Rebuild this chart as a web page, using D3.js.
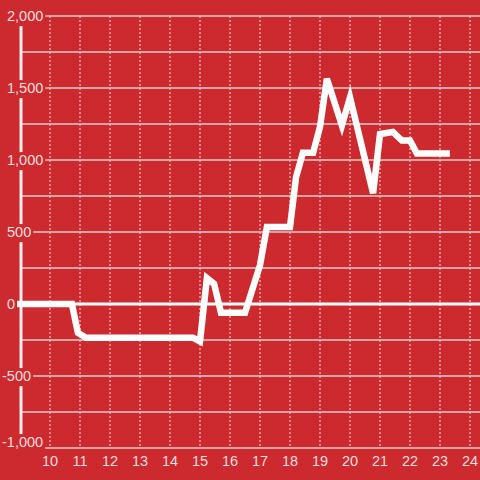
<!DOCTYPE html>
<html>
<head>
<meta charset="utf-8">
<script src="https://cdn.jsdelivr.net/npm/d3@7"></script>
<style>
  body { margin: 0; background: #cc2a2f; }
  svg { display: block; }
  text { font-family: "Liberation Sans", Arial, sans-serif; font-size: 14.5px; fill: #f4dede; }
</style>
</head>
<body>
<svg width="480" height="480"></svg>
<script>
// hours of the day
var hours = [8.9, 10.73, 10.93, 11.2, 14.77, 15.0, 15.23, 15.47, 15.7, 16.5, 17.0, 17.23, 18.0,
    18.2, 18.43, 18.77, 19.0, 19.23, 19.73, 20.0, 20.77, 21.0, 21.43, 21.73, 22.0, 22.23, 23.33];
var values = [0, 0, -200, -235, -235, -260, 180, 140, -60, -60, 270, 535, 535,
    880, 1050, 1050, 1230, 1565, 1240, 1435, 770, 1180, 1195, 1135, 1135, 1045, 1045];
var xTicks = [10, 11, 12, 13, 14, 15, 16, 17, 18, 19, 20, 21, 22, 23, 24];
var yTicks = [-1000, -750, -500, -250, 0, 250, 500, 750, 1000, 1250, 1500, 1750, 2000];
var yLabels = [-1000, -500, 0, 500, 1000, 1500, 2000];

var bg = "#cc2a2f";
var svg = d3.select("svg");

var x = d3.scaleLinear().domain([10, 24]).range([50, 470]);
var y = d3.scaleLinear().domain([-1000, 2000]).range([448, 16]);

// vertical dotted grid
svg.append("g").selectAll("line")
    .data(xTicks)
    .enter().append("line")
    .attr("x1", function(d) { return x(d); })
    .attr("x2", function(d) { return x(d); })
    .attr("y1", 16).attr("y2", 446)
    .attr("stroke", "#f0dada")
    .attr("stroke-width", 1)
    .attr("stroke-dasharray", "2,2");

// horizontal grid
svg.append("g").selectAll("line")
    .data(yTicks)
    .enter().append("line")
    .attr("x1", 21).attr("x2", 480)
    .attr("y1", function(d) { return y(d); })
    .attr("y2", function(d) { return y(d); })
    .attr("stroke", function(d) { return d === 0 ? "#ffffff" : "#d6cccc"; })
    .attr("stroke-width", function(d) { return d === 0 ? 3 : 1.5; });

// y axis line
svg.append("line")
    .attr("x1", 21).attr("x2", 21)
    .attr("y1", 16).attr("y2", 448)
    .attr("stroke", "#f4eeee")
    .attr("stroke-width", 3);

// data line
var line = d3.line()
    .x(function(d, i) { return x(hours[i]); })
    .y(function(d) { return y(d); });

svg.append("path")
    .datum(values)
    .attr("d", line)
    .attr("fill", "none")
    .attr("stroke", "#ffffff")
    .attr("stroke-width", 6.5)
    .attr("stroke-linejoin", "miter");

// y labels with background boxes
var fmt = d3.format(",");
var yl = svg.append("g").selectAll("g")
    .data(yLabels)
    .enter().append("g");
var ytext = yl.append("text")
    .attr("x", function(d) { return d < 0 ? 2 : 7; })
    .attr("y", function(d) { return d === -1000 ? y(d) - 6 : y(d); })
    .attr("dy", "0.35em")
    .text(function(d) { return fmt(d).replace("−", "-"); });
ytext.each(function() {
    var b = this.getBBox();
    d3.select(this.parentNode).insert("rect", "text")
        .attr("x", b.x - 1)
        .attr("y", b.y)
        .attr("width", b.width + 3)
        .attr("height", b.height + 2)
        .attr("fill", bg);
});

// x labels
svg.append("g").selectAll("text")
    .data(xTicks)
    .enter().append("text")
    .attr("x", function(d) { return x(d); })
    .attr("y", 466)
    .attr("text-anchor", "middle")
    .text(function(d) { return d; });
</script>
</body>
</html>
